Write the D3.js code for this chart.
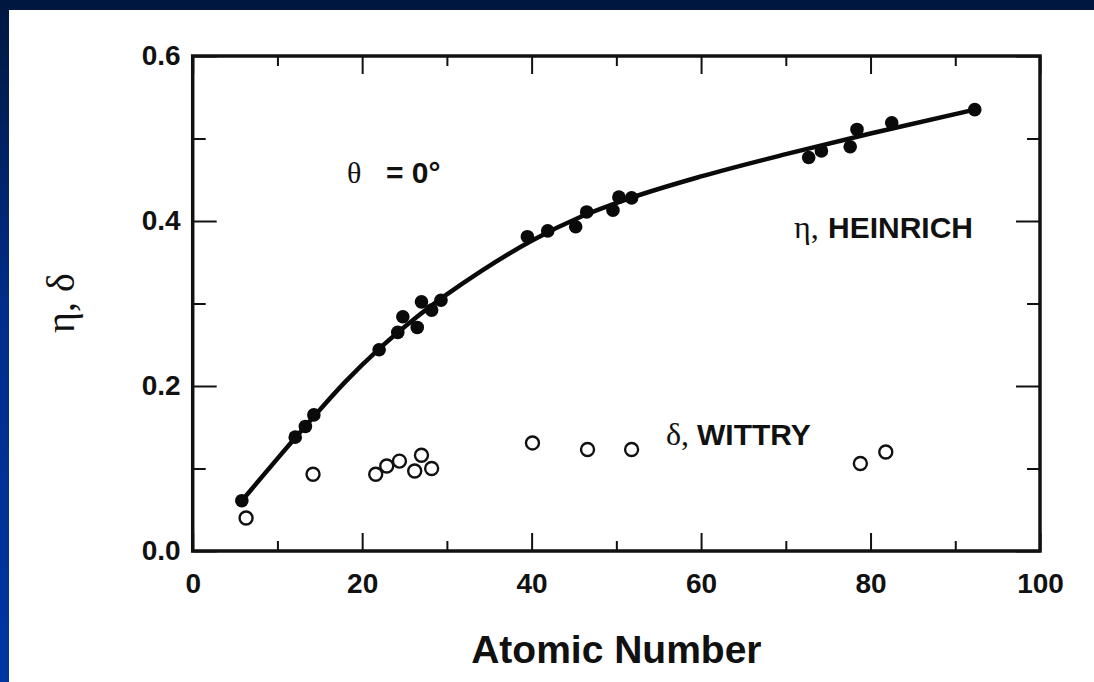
<!DOCTYPE html>
<html>
<head>
<meta charset="utf-8">
<script src="https://cdn.jsdelivr.net/npm/d3@7"></script>
<style>
  html, body { margin: 0; padding: 0; background: #001a4a; }
  svg { display: block; }
</style>
</head>
<body>
<div id="chart"></div>
<script>

// Heinrich backscatter coefficient (filled circles)
const heinrichZ   = [5.8, 12.1, 13.3, 14.3, 22.0, 24.2, 24.8, 26.5, 27.0, 28.2, 29.3,
                     39.5, 41.9, 45.2, 46.5, 49.6, 50.3, 51.8, 72.7, 74.2, 77.6, 78.4, 82.5, 92.3]
const heinrichEta = [0.061, 0.138, 0.151, 0.165, 0.244, 0.265, 0.284, 0.271, 0.302, 0.292, 0.304,
                     0.381, 0.388, 0.393, 0.411, 0.413, 0.429, 0.428, 0.477, 0.485, 0.490, 0.511, 0.519, 0.535]

// Wittry secondary yield (open circles)
const wittryZ     = [6.3, 14.2, 21.6, 22.9, 24.4, 26.2, 27.0, 28.2, 40.1, 46.6, 51.8, 78.8, 81.8]
const wittryDelta = [0.040, 0.093, 0.093, 0.103, 0.109, 0.097, 0.116, 0.100, 0.131, 0.123, 0.123, 0.106, 0.120]

// fitted curve
const curveZ   = [5.8, 10, 14.3, 18, 22, 26, 30, 34, 40, 46, 52, 60, 70, 80, 92.3]
const curveEta = [0.061, 0.112, 0.163, 0.205, 0.245, 0.280, 0.311, 0.339, 0.376, 0.406, 0.429,
                  0.454, 0.481, 0.506, 0.535]

const xTicks = [0, 20, 40, 60, 80, 100]
const xMinor = [10, 30, 50, 70, 90]
const yTicks = [0, 0.2, 0.4, 0.6]
const yMinor = [0.1, 0.3, 0.5]

const W = 1094, H = 682
const mLeft = 192.7, mRight = 1040, mTop = 56, mBottom = 551

const sans = "'Liberation Sans', Arial, Helvetica, sans-serif"
const serif = "'Liberation Serif', 'Times New Roman', serif"

var svg = d3.select("#chart")
    .append("svg")
    .attr("width", W)
    .attr("height", H)

// blue slide background
var grad = svg.append("defs").append("linearGradient")
    .attr("id", "bg")
    .attr("x1", 0).attr("y1", 0).attr("x2", 0).attr("y2", 1)
grad.append("stop").attr("offset", "0%").attr("stop-color", "#00173f")
grad.append("stop").attr("offset", "45%").attr("stop-color", "#002d8a")
grad.append("stop").attr("offset", "100%").attr("stop-color", "#0035a2")

svg.append("rect").attr("width", W).attr("height", H).attr("fill", "url(#bg)")
svg.append("rect").attr("x", 9).attr("y", 10).attr("width", W - 9).attr("height", H - 10).attr("fill", "#fff")

const x = d3.scaleLinear().domain([0, 100]).range([mLeft, mRight])
const y = d3.scaleLinear().domain([0, 0.6]).range([mBottom, mTop])

// axes: ticks pointing inward on all four sides
function styleAxis(g) {
    g.select(".domain").remove()
    g.selectAll(".tick line").attr("stroke", "#111").attr("stroke-width", 2)
    g.selectAll(".tick text")
        .attr("fill", "#111")
        .attr("font-family", sans)
        .attr("font-weight", "bold")
        .attr("font-size", 28)
}

svg.append("g").attr("transform", `translate(0,${mBottom})`)
    .call(d3.axisBottom(x).tickValues(xTicks).tickSize(-18).tickPadding(22).tickFormat(d3.format("d")))
    .call(styleAxis)
svg.append("g").attr("transform", `translate(0,${mBottom})`)
    .call(d3.axisBottom(x).tickValues(xMinor).tickSize(-10).tickFormat(""))
    .call(styleAxis)
svg.append("g").attr("transform", `translate(0,${mTop})`)
    .call(d3.axisTop(x).tickValues(xTicks).tickSize(-18).tickFormat(""))
    .call(styleAxis)
svg.append("g").attr("transform", `translate(0,${mTop})`)
    .call(d3.axisTop(x).tickValues(xMinor).tickSize(-10).tickFormat(""))
    .call(styleAxis)

svg.append("g").attr("transform", `translate(${mLeft},0)`)
    .call(d3.axisLeft(y).tickValues(yTicks).tickSize(-24).tickPadding(12).tickFormat(d3.format(".1f")))
    .call(styleAxis)
svg.append("g").attr("transform", `translate(${mLeft},0)`)
    .call(d3.axisLeft(y).tickValues(yMinor).tickSize(-13).tickFormat(""))
    .call(styleAxis)
svg.append("g").attr("transform", `translate(${mRight},0)`)
    .call(d3.axisRight(y).tickValues(yTicks).tickSize(-24).tickFormat(""))
    .call(styleAxis)
svg.append("g").attr("transform", `translate(${mRight},0)`)
    .call(d3.axisRight(y).tickValues(yMinor).tickSize(-13).tickFormat(""))
    .call(styleAxis)

// frame
svg.append("rect")
    .attr("x", mLeft).attr("y", mTop)
    .attr("width", mRight - mLeft).attr("height", mBottom - mTop)
    .attr("fill", "none")
    .attr("stroke", "#111")
    .attr("stroke-width", 3.5)

// fitted curve
var line = d3.line()
    .x(d => x(d[0]))
    .y(d => y(d[1]))
    .curve(d3.curveMonotoneX)

svg.append("path")
    .datum(d3.zip(curveZ, curveEta))
    .attr("d", line)
    .attr("fill", "none")
    .attr("stroke", "#0a0a0a")
    .attr("stroke-width", 4.5)
    .attr("stroke-linecap", "round")

svg.append("g")
    .selectAll("circle")
    .data(d3.zip(heinrichZ, heinrichEta))
    .enter()
    .append("circle")
    .attr("cx", d => x(d[0]))
    .attr("cy", d => y(d[1]))
    .attr("r", 6.8)
    .attr("fill", "#0a0a0a")

svg.append("g")
    .selectAll("circle")
    .data(d3.zip(wittryZ, wittryDelta))
    .enter()
    .append("circle")
    .attr("cx", d => x(d[0]))
    .attr("cy", d => y(d[1]))
    .attr("r", 6.5)
    .attr("fill", "#fff")
    .attr("stroke", "#111")
    .attr("stroke-width", 2.4)

// labels
svg.append("text")
    .attr("x", (mLeft + mRight) / 2)
    .attr("y", 663)
    .attr("text-anchor", "middle")
    .attr("font-family", sans)
    .attr("font-weight", "bold")
    .attr("font-size", 39)
    .attr("fill", "#111")
    .text("Atomic Number")

svg.append("text")
    .attr("transform", "translate(74,303) rotate(-90)")
    .attr("text-anchor", "middle")
    .attr("font-family", serif)
    .attr("font-size", 40)
    .attr("fill", "#111")
    .text("η, δ")

svg.append("text").attr("x", 347).attr("y", 183)
    .attr("font-family", serif).attr("font-size", 30).attr("fill", "#111")
    .text("θ")
svg.append("text").attr("x", 386).attr("y", 183)
    .attr("font-family", sans).attr("font-weight", "bold").attr("font-size", 30).attr("fill", "#111")
    .text("= 0°")

svg.append("text").attr("x", 794).attr("y", 238)
    .attr("font-family", serif).attr("font-size", 32).attr("fill", "#111")
    .text("η,")
svg.append("text").attr("x", 828).attr("y", 238)
    .attr("font-family", sans).attr("font-weight", "bold").attr("font-size", 30).attr("fill", "#111")
    .text("HEINRICH")

svg.append("text").attr("x", 666).attr("y", 445)
    .attr("font-family", serif).attr("font-size", 32).attr("fill", "#111")
    .text("δ,")
svg.append("text").attr("x", 697).attr("y", 445)
    .attr("font-family", sans).attr("font-weight", "bold").attr("font-size", 30).attr("fill", "#111")
    .text("WITTRY")

</script>
</body>
</html>
